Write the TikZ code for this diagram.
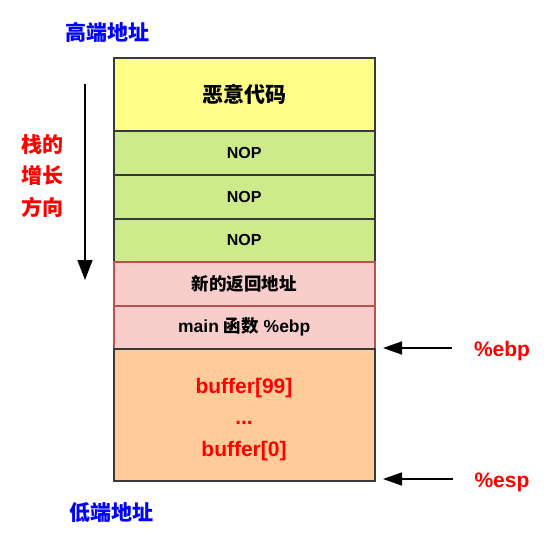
\documentclass[tikz,border=0pt]{standalone}
\usepackage{fontspec}
\setmainfont{Liberation Sans}
\newfontfamily\cjk{Noto Sans CJK SC}
\usetikzlibrary{arrows.meta}
\definecolor{cyellow}{HTML}{FFFF88}
\definecolor{cgreen}{HTML}{CDEB8B}
\definecolor{cpink}{HTML}{F8CECC}
\definecolor{cpinkb}{HTML}{B85450}
\definecolor{corange}{HTML}{FFCC99}
\definecolor{cgrayb}{HTML}{36393D}
\definecolor{cblue}{HTML}{0000FF}
\definecolor{cred}{HTML}{FF0000}
\begin{document}
\begin{tikzpicture}[x=1pt,y=-1pt,
  cell/.style={draw=cgrayb,line width=1.5pt,minimum width=261pt,inner sep=0pt,anchor=north west,font=\bfseries},
  pcell/.style={cell,draw=cpinkb,fill=cpink},
  lbl/.style={font=\cjk\bfseries\fontsize{21}{31.5}\selectfont},
  ptr/.style={-{Triangle[length=19pt,width=13pt]},line width=1.5pt},
]
\useasboundingbox (0,0) rectangle (546,538);
% cells
\node[cell,fill=cyellow,minimum height=73pt] (code) at (113,57) {\cjk\fontsize{21}{24}\selectfont 恶意代码};
\node[cell,fill=cgreen,minimum height=44pt] (nop1) at (113,130) {\fontsize{16}{18}\selectfont NOP};
\node[cell,fill=cgreen,minimum height=44pt] (nop2) at (113,174) {\fontsize{16}{18}\selectfont NOP};
\node[cell,fill=cgreen,minimum height=43pt] (nop3) at (113,218) {\fontsize{16}{18}\selectfont NOP};
\node[pcell,minimum height=44pt] (ret) at (113,261) {\cjk\fontsize{17.5}{20}\selectfont 新的返回地址};
\node[pcell,minimum height=43pt] (ebpc) at (113,305) {\fontsize{17.5}{20}\selectfont main {\cjk 函数} \%ebp};
\node[cell,fill=corange,minimum height=132pt] (buf) at (113,348) {};
\node[text=cred,align=center,font=\bfseries\fontsize{21}{31.5}\selectfont] (buftext) at (244,419.5)
  {buffer[99]\\...\\buffer[0]};
% labels
\node[lbl,text=cblue] (high) at (107,32) {高端地址};
\node[lbl,text=cblue] (low) at (111,513) {低端地址};
\node[lbl,text=cred,align=center] (grow) at (42,176) {栈的\\增长\\方向};
% growth arrow
\coordinate (gtop) at (85,84);
\coordinate (gbot) at (85,280);
\draw[-{Triangle[length=20pt,width=15pt]},line width=1.5pt] (gtop) -- (gbot);
% pointers
\node[font=\bfseries\fontsize{21}{24}\selectfont,text=cred] (ebp) at (502,351) {\%ebp};
\node[font=\bfseries\fontsize{21}{24}\selectfont,text=cred] (esp) at (502,482) {\%esp};
\coordinate (ebpfrom) at (452,348);
\coordinate (ebpto) at (383,348);
\coordinate (espfrom) at (453,479);
\coordinate (espto) at (383,479);
\draw[ptr] (ebpfrom) -- (ebpto);
\draw[ptr] (espfrom) -- (espto);
\end{tikzpicture}
\end{document}
